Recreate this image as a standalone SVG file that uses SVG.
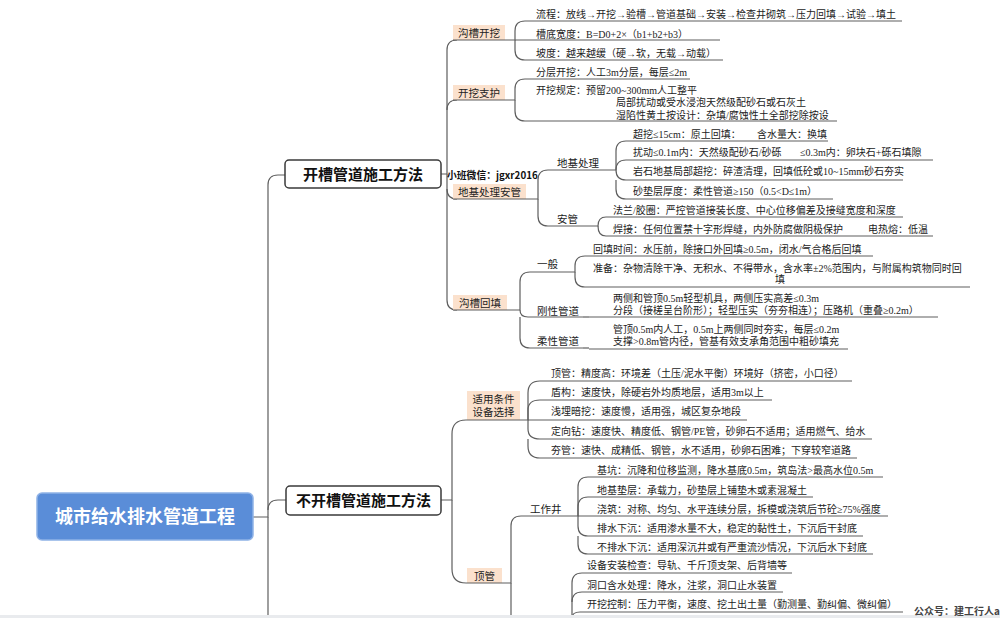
<svg xmlns="http://www.w3.org/2000/svg" width="1000" height="618" viewBox="0 0 1000 618">
<style>
.ln{fill:none;stroke:#5e5e5e;stroke-width:1.2}
.t{font-family:"Liberation Serif","Noto Sans CJK SC",serif;font-size:10px;fill:#222}
.lb{font-family:"Liberation Serif","Noto Sans CJK SC",serif;font-size:10.5px;fill:#222}
.c{text-anchor:middle}
.pe{fill:#FBE1CD}
.b1{fill:#fff;stroke:#3a3a3a;stroke-width:1.5}
.t1{font-family:"Noto Sans CJK SC",sans-serif;font-weight:bold;font-size:15px;fill:#111;text-anchor:middle}
</style>
<rect width="1000" height="618" fill="#fff"/>

<g id="connectors" class="ln">
<path d="M253,517 H268 V185 Q268,175 278,175 H285"/>
<path d="M268,510 Q268,500 278,500 H286"/>
<path d="M268,517 V618"/>
<path d="M441,174 H447 V50 Q447,40 457,40"/>
<path d="M447,110 Q447,100 457,100"/>
<path d="M447,174 V189 Q447,199 457,199"/>
<path d="M447,189 V300 Q447,310 457,310"/>
<path d="M505,40 H515 V31 Q515,21 525,21"/>
<path d="M515,40 V50 Q515,60 525,60"/>
<path d="M505,100 H515 V89 Q515,79 525,79"/>
<path d="M515,100 V111 Q515,121 525,121"/>
<path d="M526,199 H538 V180 Q538,170 548,170"/>
<path d="M538,199 V216 Q538,226 548,226"/>
<path d="M610,170 H616 V151 Q616,141 626,141"/>
<path d="M616,170 Q616,160 626,160"/>
<path d="M616,170 Q616,180 626,180"/>
<path d="M616,180 V189 Q616,199 626,199"/>
<path d="M592,226 H598 Q598,217 606,217"/>
<path d="M598,226 Q598,236 606,236"/>
<path d="M507,310 H520 V282 Q520,272 530,272"/>
<path d="M520,310 Q520,317 528,317 H530"/>
<path d="M520,317 V338 Q520,348 530,348"/>
<path d="M570,272 H575 V266 Q575,256 585,256"/>
<path d="M575,272 V277 Q575,287 585,287"/>
<path d="M583,317 H589"/>
<path d="M583,348 H589"/>
<path d="M441,500 H452 V434 Q452,420 466,420 H467"/>
<path d="M452,500 V569 Q452,583 466,583 H467"/>
<path d="M520,420 H528 V393 Q528,381 540,381"/>
<path d="M528,420 V410 Q528,400 540,400"/>
<path d="M528,420 V429 Q528,439 540,439"/>
<path d="M528,439 V446 Q528,458 540,458"/>
<path d="M502,583 H511 V526 Q511,516 521,516"/>
<path d="M511,583 V618"/>
<path d="M570,516 H578 V487 Q578,477 588,477"/>
<path d="M578,516 V507 Q578,497 588,497"/>
<path d="M578,516 V526 Q578,536 588,536"/>
<path d="M578,536 V544 Q578,554 588,554"/>
<path d="M572,618 V583 Q572,573 582,573"/>
<path d="M572,602 Q572,592 582,592"/>
<path d="M572,618 Q572,612 580,612 H582"/>
</g>

<g id="root">
<rect x="37" y="493" width="216" height="47" rx="5" fill="#5A8DD8" stroke="#8fb2e6" stroke-width="1.5"/>
<text x="145" y="523" font-family="Noto Sans CJK SC,sans-serif" font-weight="bold" font-size="18" fill="#fff" text-anchor="middle">城市给水排水管道工程</text>
</g>

<g id="kaicao">
<rect class="b1" x="285" y="160" width="156" height="28" rx="4"/>
<text class="t1" x="363" y="179.5">开槽管道施工方法</text>
</g>
<g id="bukaicao">
<rect class="b1" x="286" y="486" width="155" height="29" rx="4"/>
<text class="t1" x="363.5" y="506">不开槽管道施工方法</text>
</g>

<g id="goucao-kaiwa">
<rect class="pe" x="453" y="25" width="52" height="15"/>
<line class="ln" x1="453" y1="40" x2="505" y2="40"/>
<text class="lb c" x="479" y="36.5">沟槽开挖</text>
</g>
<g id="liucheng"><line class="ln" x1="525" y1="21" x2="902" y2="21"/><text class="t" x="536" y="18">流程：放线→开挖→验槽→管道基础→安装→检查井砌筑→压力回填→试验→填土</text></g>
<g id="caodi"><line class="ln" x1="515" y1="40" x2="720" y2="40"/><text class="t" x="536" y="37.5">槽底宽度：B=D0+2×（b1+b2+b3）</text></g>
<g id="podu"><line class="ln" x1="525" y1="60" x2="723" y2="60"/><text class="t" x="536" y="57">坡度：越来越缓（硬→软，无载→动载）</text></g>

<g id="kaiwa-zhihu">
<rect class="pe" x="453" y="85" width="52" height="15"/>
<line class="ln" x1="453" y1="100" x2="505" y2="100"/>
<text class="lb c" x="479" y="96.5">开挖支护</text>
</g>
<g id="fenceng"><line class="ln" x1="525" y1="79" x2="690" y2="79"/><text class="t" x="536" y="76">分层开挖：人工3m分层，每层≤2m</text></g>
<g id="guiding"><line class="ln" x1="525" y1="121" x2="837" y2="121"/>
<text class="t" x="536" y="94">开挖规定：预留200~300mm人工整平</text>
<text class="t" x="616" y="106">局部扰动或受水浸泡天然级配砂石或石灰土</text>
<text class="t" x="616" y="118.5">湿陷性黄土按设计：杂填/腐蚀性土全部挖除按设</text></g>

<g id="watermark"><text x="447" y="179" font-family="Noto Sans CJK SC,sans-serif" font-weight="bold" font-size="9.8" fill="#111">小班微信：jgxr2016</text></g>

<g id="diji-anguan">
<rect class="pe" x="453" y="184" width="73" height="15"/>
<line class="ln" x1="453" y1="199" x2="526" y2="199"/>
<text class="lb c" x="489.5" y="195.5">地基处理安管</text>
</g>
<g id="dijichuli"><line class="ln" x1="548" y1="170" x2="610" y2="170"/><text class="lb" x="557" y="166.5">地基处理</text></g>
<g id="chaowa"><line class="ln" x1="626" y1="141" x2="828" y2="141"/><text class="t" x="633" y="137.5">超挖≤15cm：原土回填：<tspan x="757">含水量大：换填</tspan></text></g>
<g id="raodong"><line class="ln" x1="626" y1="160" x2="933" y2="160"/><text class="t" x="633" y="155.5">扰动≤0.1m内：天然级配砂石/砂砾<tspan x="800">≤0.3m内：卵块石+砾石填隙</tspan></text></g>
<g id="yanshi"><line class="ln" x1="626" y1="180" x2="903" y2="180"/><text class="t" x="633" y="175">岩石地基局部超挖：碎渣清理，回填低砼或10~15mm砂石夯实</text></g>
<g id="shadian"><line class="ln" x1="626" y1="199" x2="833" y2="199"/><text class="t" x="633" y="194.5">砂垫层厚度：柔性管道≥150（0.5&lt;D≤1m）</text></g>
<g id="anguan"><line class="ln" x1="548" y1="226" x2="592" y2="226"/><text class="lb" x="557" y="223">安管</text></g>
<g id="falan"><line class="ln" x1="606" y1="217" x2="903" y2="217"/><text class="t" x="613" y="213.5">法兰/胶圈：严控管道接装长度、中心位移偏差及接缝宽度和深度</text></g>
<g id="hanjie"><line class="ln" x1="606" y1="236" x2="933" y2="236"/><text class="t" x="613" y="232.5">焊接：任何位置禁十字形焊缝，内外防腐做阴极保护<tspan x="868">电热熔：低温</tspan></text></g>

<g id="goucao-huitian">
<rect class="pe" x="453" y="295" width="54" height="15"/>
<line class="ln" x1="453" y1="310" x2="507" y2="310"/>
<text class="lb c" x="480" y="306.5">沟槽回填</text>
</g>
<g id="yiban"><line class="ln" x1="530" y1="272" x2="570" y2="272"/><text class="lb" x="537" y="268">一般</text></g>
<g id="huitianshijian"><line class="ln" x1="585" y1="256" x2="873" y2="256"/><text class="t" x="593" y="252.5">回填时间：水压前，除接口外回填≥0.5m，闭水/气合格后回填</text></g>
<g id="zhunbei"><line class="ln" x1="585" y1="287" x2="970" y2="287"/><text class="t" x="593" y="271.5">准备：杂物清除干净、无积水、不得带水，含水率±2%范围内，与附属构筑物同时回</text><text class="t" x="775" y="283">填</text></g>
<g id="gangxing"><line class="ln" x1="530" y1="317" x2="583" y2="317"/><text class="lb" x="537" y="314.5">刚性管道</text></g>
<g id="gangxing-leaf"><line class="ln" x1="589" y1="317" x2="938" y2="317"/>
<text class="t" x="613" y="301.5">两侧和管顶0.5m轻型机具，两侧压实高差≤0.3m</text>
<text class="t" x="613" y="314">分段（接槎呈台阶形）；轻型压实（夯夯相连）；压路机（重叠≥0.2m）</text></g>
<g id="rouxing"><line class="ln" x1="530" y1="348" x2="583" y2="348"/><text class="lb" x="537" y="345">柔性管道</text></g>
<g id="rouxing-leaf"><line class="ln" x1="589" y1="349" x2="848" y2="349"/>
<text class="t" x="613" y="332.5">管顶0.5m内人工，0.5m上两侧同时夯实，每层≤0.2m</text>
<text class="t" x="613" y="345">支撑&gt;0.8m管内径，管基有效支承角范围中粗砂填充</text></g>

<g id="shiyong">
<rect class="pe" x="467" y="391" width="53" height="29"/>
<line class="ln" x1="467" y1="420" x2="520" y2="420"/>
<text class="lb c" x="493.5" y="403">适用条件</text>
<text class="lb c" x="493.5" y="416">设备选择</text>
</g>
<g id="dingguan-s"><line class="ln" x1="540" y1="381" x2="852" y2="381"/><text class="t" x="551" y="377">顶管：精度高：环境差（土压/泥水平衡）环境好（挤密，小口径）</text></g>
<g id="dungou"><line class="ln" x1="540" y1="400" x2="772" y2="400"/><text class="t" x="551" y="396">盾构：速度快，除硬岩外均质地层，适用3m以上</text></g>
<g id="qianmai"><line class="ln" x1="528" y1="420" x2="747" y2="420"/><text class="t" x="551" y="415">浅埋暗挖：速度慢，适用强，城区复杂地段</text></g>
<g id="dingxiang"><line class="ln" x1="540" y1="439" x2="872" y2="439"/><text class="t" x="551" y="434.5">定向钻：速度快、精度低、钢管/PE管，砂卵石不适用；适用燃气、给水</text></g>
<g id="hangguan"><line class="ln" x1="540" y1="458" x2="857" y2="458"/><text class="t" x="551" y="454">夯管：速快、成精低、钢管，水不适用，砂卵石困难；下穿较窄道路</text></g>

<g id="dingguan">
<rect class="pe" x="467" y="568" width="35" height="15"/>
<line class="ln" x1="467" y1="583" x2="502" y2="583"/>
<text class="lb c" x="484.5" y="579.5">顶管</text>
</g>
<g id="gongzuojing"><line class="ln" x1="521" y1="516" x2="570" y2="516"/><text class="lb" x="530" y="512.5">工作井</text></g>
<g id="jikeng"><line class="ln" x1="588" y1="477" x2="883" y2="477"/><text class="t" x="597" y="473.5">基坑：沉降和位移监测，降水基底0.5m，筑岛法&gt;最高水位0.5m</text></g>
<g id="dijidianceng"><line class="ln" x1="588" y1="497" x2="813" y2="497"/><text class="t" x="597" y="493.5">地基垫层：承载力，砂垫层上铺垫木或素混凝土</text></g>
<g id="jiaozhu"><line class="ln" x1="578" y1="516" x2="888" y2="516"/><text class="t" x="597" y="512.5">浇筑：对称、均匀、水平连续分层，拆模或浇筑后节砼≥75%强度</text></g>
<g id="paishui"><line class="ln" x1="588" y1="536" x2="863" y2="536"/><text class="t" x="597" y="532">排水下沉：适用渗水量不大，稳定的黏性土，下沉后干封底</text></g>
<g id="bupaishui"><line class="ln" x1="588" y1="554" x2="873" y2="554"/><text class="t" x="597" y="550.5">不排水下沉：适用深沉井或有严重流沙情况，下沉后水下封底</text></g>
<g id="shebei"><line class="ln" x1="582" y1="573" x2="792" y2="573"/><text class="t" x="587" y="569">设备安装检查：导轨、千斤顶支架、后背墙等</text></g>
<g id="dongkou"><line class="ln" x1="582" y1="592" x2="783" y2="592"/><text class="t" x="587" y="588.5">洞口含水处理：降水，注浆，洞口止水装置</text></g>
<g id="kaiwakongzhi"><line class="ln" x1="582" y1="612" x2="903" y2="612"/><text class="t" x="587" y="608">开挖控制：压力平衡，速度、挖土出土量（勤测量、勤纠偏、微纠偏）</text></g>

<rect x="0" y="615" width="1000" height="3" fill="#e9ebee"/>
<text x="914" y="615" font-family="Noto Sans CJK SC,sans-serif" font-weight="bold" font-size="10" fill="#444">公众号：建工行人a</text>
</svg>
